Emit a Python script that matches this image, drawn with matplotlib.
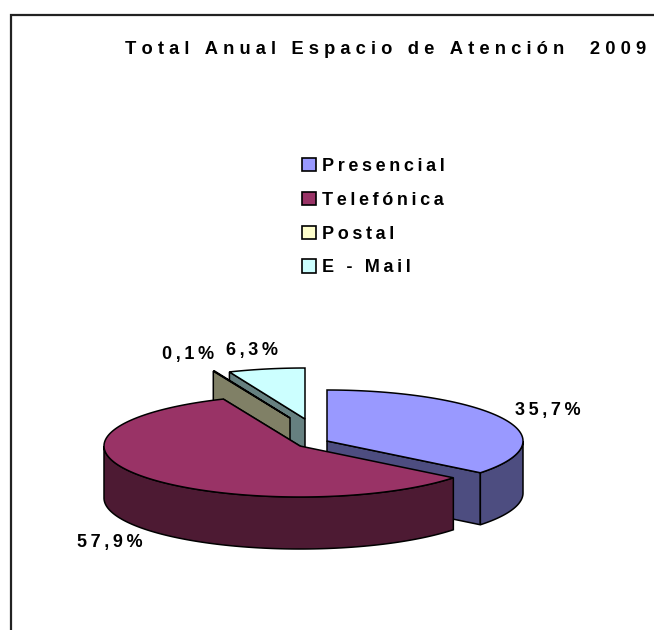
import numpy as np
import matplotlib
matplotlib.use('Agg')
import matplotlib.pyplot as plt
from matplotlib.patches import Patch, Polygon, Rectangle

plt.rcParams['font.family'] = ['Liberation Sans', 'DejaVu Sans']

title = 'Total Anual Espacio de Atención  2009'
categories = ['Presencial', 'Telefónica', 'Postal', 'E - Mail']
values = [35.7, 57.9, 0.1, 6.3]

top_colors = ['#9999FF', '#993366', '#FFFFCC', '#CCFFFF']
side_colors = ['#4D4D80', '#4D1A33', '#808066', '#668080']

# exploded centres of the slices, in pixels of the 654x630 picture
centers = [(327, 441), (300, 446), (290, 418), (305, 419)]
label_pos = [(548, 411), (110, 542), (188, 354), (252, 351)]
RX, RY, DEPTH = 196, 51, 52


def spaced(text, gap='\u2009'):
    # the reference has wide letter spacing, thin space between the letters
    return gap.join(text)


def rim(center, angles):
    t = np.radians(angles)
    return np.column_stack([center[0] + RX * np.sin(t), center[1] - RY * np.cos(t)])


def draw_slice(ax, center, start, end, top, side):
    arc = rim(center, np.linspace(start, end, 200))
    apex = np.array(center)
    down = np.array([0, DEPTH])

    # cut face on the side of the start angle
    if start > 180:
        p = arc[0]
    else:
        p = arc[-1]
    ax.add_patch(Polygon([apex, p, p + down, apex + down], facecolor=side, edgecolor='black', lw=1.1))

    # outer wall, only the front half of the ellipse can be seen
    a = max(start, 90)
    b = min(end, 270)
    if b > a:
        wall = rim(center, np.linspace(a, b, 200))
        ax.add_patch(Polygon(np.vstack([wall, (wall + down)[::-1]]),
                             facecolor=side, edgecolor='black', lw=1.1))

    ax.add_patch(Polygon(np.vstack([apex, arc]), facecolor=top, edgecolor='black', lw=1.1))


fig = plt.figure(figsize=(6.54, 6.3), dpi=100)
ax = fig.add_axes([0, 0, 1, 1])
ax.set_xlim(0, 654)
ax.set_ylim(630, 0)
ax.axis('off')

ax.add_patch(Rectangle((11, 15), 700, 700, facecolor='white', edgecolor='#222222', lw=1.6))

ax.text(386, 49, spaced(title, '\u2009\u200a'), ha='center', va='center', fontsize=13.2, fontweight='bold')

edges = np.concatenate([[0], np.cumsum(values)]) * 3.6
# back slices first, the big red one covers the lower parts of the others
for i in [0, 3, 2, 1]:
    draw_slice(ax, centers[i], edges[i], edges[i + 1], top_colors[i], side_colors[i])

for v, pos in zip(values, label_pos):
    ax.text(pos[0], pos[1], spaced(f'{v:.1f}'.replace('.', ',') + '%'),
            ha='center', va='center', fontsize=13, fontweight='bold')

handles = [Patch(facecolor=c, edgecolor='black', lw=1.2) for c in top_colors]
ax.legend(handles, [spaced(c) for c in categories], loc='upper left',
          bbox_to_anchor=(302, 158), bbox_transform=ax.transData, frameon=False,
          prop={'size': 13, 'weight': 'bold'}, handlelength=0.75, handleheight=0.75,
          handletextpad=0.33, labelspacing=0.93, borderpad=0, borderaxespad=0)

fig.savefig('out.png', dpi=100)
